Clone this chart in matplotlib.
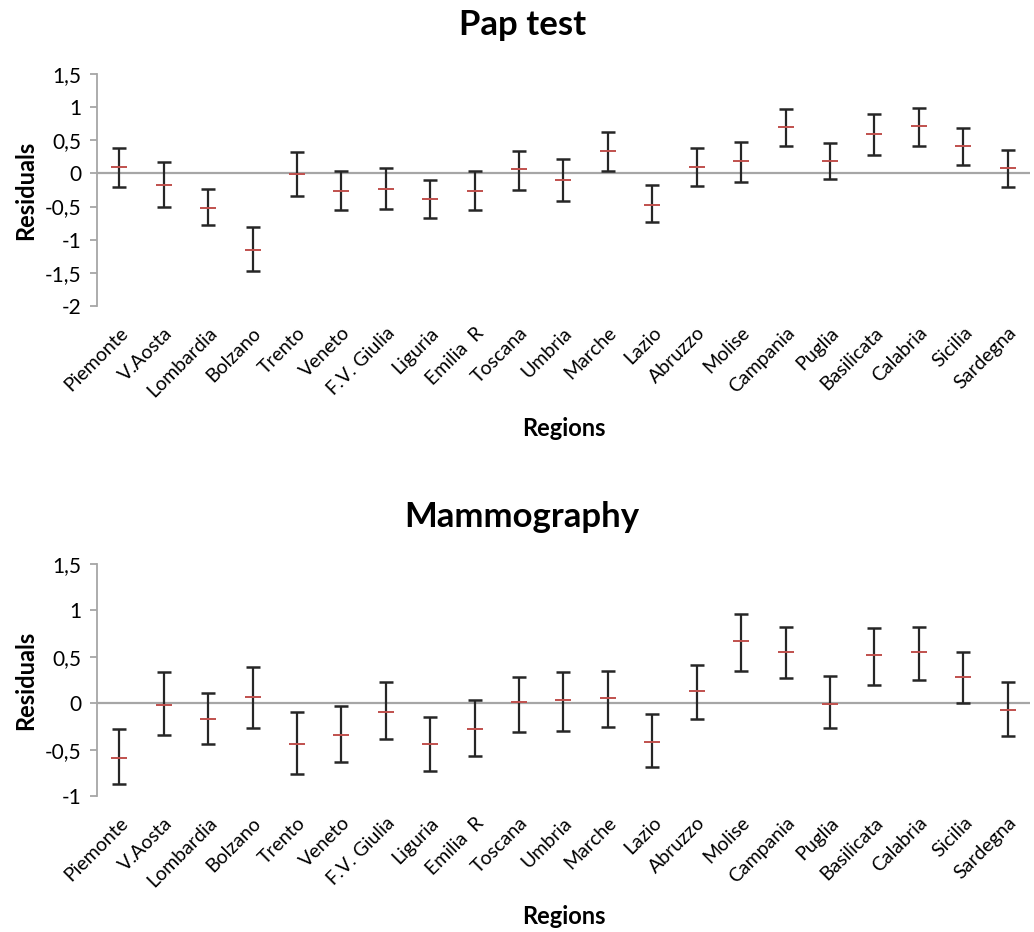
import matplotlib
matplotlib.use("Agg")
import matplotlib.pyplot as plt
from matplotlib.ticker import FuncFormatter, MultipleLocator
import numpy as np

plt.rcParams['font.family'] = ['Lato', 'DejaVu Sans']

regions = ["Piemonte", "V.Aosta", "Lombardia", "Bolzano", "Trento", "Veneto",
           "F.V. Giulia", "Liguria", "Emilia  R", "Toscana", "Umbria", "Marche",
           "Lazio", "Abruzzo", "Molise", "Campania", "Puglia", "Basilicata",
           "Calabria", "Sicilia", "Sardegna"]

pap_mid = [0.10, -0.18, -0.52, -1.155, -0.015, -0.27, -0.24, -0.39, -0.265,
           0.06, -0.10, 0.34, -0.47, 0.10, 0.18, 0.705, 0.195, 0.595, 0.71, 0.415, 0.08]
pap_low = [-0.20, -0.51, -0.785, -1.47, -0.335, -0.555, -0.54, -0.67, -0.555,
           -0.245, -0.41, 0.03, -0.74, -0.195, -0.135, 0.42, -0.085, 0.28, 0.415, 0.13, -0.21]
pap_high = [0.38, 0.175, -0.235, -0.815, 0.33, 0.035, 0.075, -0.095, 0.04,
            0.345, 0.225, 0.63, -0.18, 0.38, 0.47, 0.97, 0.465, 0.895, 0.985, 0.685, 0.355]

mam_mid = [-0.586, -0.015, -0.17, 0.07, -0.44, -0.34, -0.09, -0.445, -0.28,
           0.015, 0.03, 0.055, -0.415, 0.135, 0.67, 0.555, -0.01, 0.52, 0.55, 0.285, -0.07]
mam_low = [-0.87, -0.34, -0.44, -0.27, -0.765, -0.63, -0.39, -0.727, -0.57,
           -0.31, -0.295, -0.26, -0.685, -0.165, 0.35, 0.27, -0.27, 0.20, 0.25, 0.0, -0.35]
mam_high = [-0.28, 0.34, 0.115, 0.385, -0.10, -0.035, 0.23, -0.145, 0.03,
            0.285, 0.34, 0.35, -0.12, 0.415, 0.965, 0.825, 0.29, 0.815, 0.825, 0.55, 0.225]

W, H = 1034, 932
fig = plt.figure(figsize=(W / 100, H / 100), dpi=100)
LEFT, RIGHT = 97, 1030

def make_axes(top_px, bottom_px):
    return fig.add_axes([LEFT / W, 1 - bottom_px / H, (RIGHT - LEFT) / W, (bottom_px - top_px) / H])

def fmt(v, pos):
    return f"{v:g}".replace('.', ',')

def draw(ax, mid, low, high, ylim, title, title_base_px, xlabel_base_px):
    x = np.arange(len(regions))
    mid = np.array(mid); low = np.array(low); high = np.array(high)
    ax.axhline(0, color='#A6A6A6', lw=1.6, zorder=1)
    ax.errorbar(x, mid, yerr=[mid - low, high - mid], fmt='none', ecolor='#262626',
                elinewidth=1.6, capsize=5, capthick=1.8, zorder=2)
    ax.plot(x, mid, linestyle='none', marker='_', ms=11, mew=1.4, color='#C0504D', zorder=3)
    ax.set_xlim(-0.5, len(regions) - 0.5)
    ax.set_ylim(*ylim)
    ax.yaxis.set_major_locator(MultipleLocator(0.5))
    ax.yaxis.set_major_formatter(FuncFormatter(fmt))
    for s in ['top', 'right', 'bottom']:
        ax.spines[s].set_visible(False)
    ax.spines['left'].set_color('#A6A6A6')
    ax.spines['left'].set_linewidth(1.3)
    ax.tick_params(axis='y', colors='#A6A6A6', length=5, width=1.3, labelcolor='black',
                   labelsize=15, pad=6)
    ax.set_xticks(x)
    ax.set_xticklabels(regions, rotation=45, ha='right', rotation_mode='anchor', fontsize=14)
    ax.tick_params(axis='x', length=0, pad=13)
    ax.set_ylabel('Residuals', fontsize=17, fontweight='bold', labelpad=6)
    fig.text((LEFT + RIGHT) / 2 / W, 1 - xlabel_base_px / H, 'Regions', ha='center',
             va='baseline', fontsize=17, fontweight='bold')
    fig.text(0.505, 1 - title_base_px / H, title, ha='center', va='baseline',
             fontsize=25, fontweight='bold')

ax1 = make_axes(74, 306)
draw(ax1, pap_mid, pap_low, pap_high, (-2, 1.5), 'Pap test', 35, 436)
ax2 = make_axes(564, 796)
draw(ax2, mam_mid, mam_low, mam_high, (-1, 1.5), 'Mammography', 527, 924)

fig.savefig('out.png', dpi=100)
